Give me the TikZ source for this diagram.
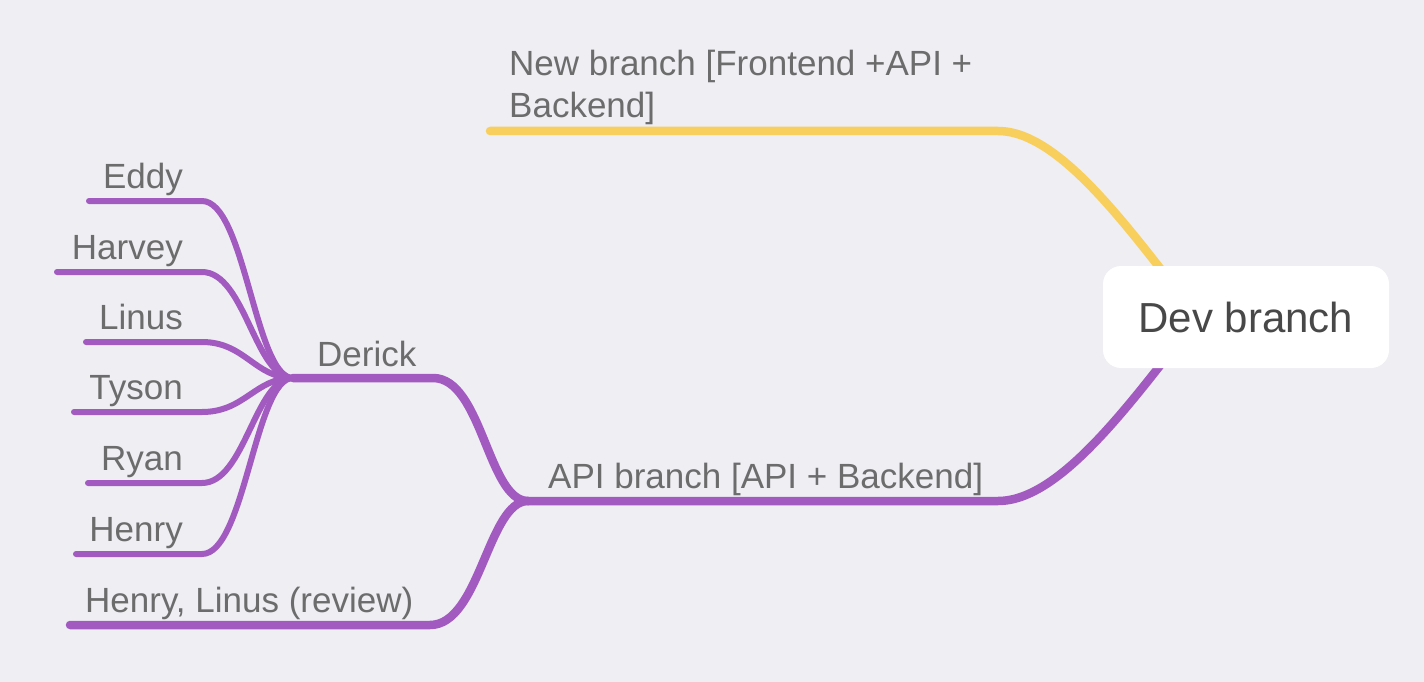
\documentclass[tikz,border=0pt]{standalone}
\usepackage{fontspec}
\setmainfont{Liberation Sans}
\usetikzlibrary{backgrounds}
\definecolor{mmpurple}{RGB}{162,90,193}
\definecolor{mmyellow}{RGB}{248,207,92}
\definecolor{mmbg}{RGB}{238,238,243}
\definecolor{mmtext}{RGB}{108,108,108}
\definecolor{mmdark}{RGB}{72,72,72}

\begin{document}
\begin{tikzpicture}[x=1pt, y=-1pt,
    tag/.style={inner sep=0pt, text=mmtext, font=\fontsize{35}{42}\selectfont},
    trunk/.style={line width=8.5pt, line cap=round},
    twig/.style={mmpurple, line width=6pt, line cap=round}]
            \useasboundingbox (0,0) rectangle (1424,682);
            \node[fill=white, rounded corners=18pt, minimum width=286pt, minimum height=102pt, text=mmdark, font=\fontsize{42}{50}\selectfont] (dev) at (1246,317) {Dev branch};
            % junctions and line ends
            \coordinate (devin) at ([xshift=95pt]dev.west);
            \coordinate (api) at (528,501);
            \coordinate (apiR) at (998,501);
            \coordinate (derick) at (293,378);
            \coordinate (derickR) at (433,378);
            \coordinate (newL) at (490,131);
            \coordinate (newR) at (998,131);
            \coordinate (revL) at (70,625);
            \coordinate (revR) at (430,625);
            \coordinate (eddyL) at (89,201);    \coordinate (eddyR) at (202,201);
            \coordinate (harveyL) at (57,272);  \coordinate (harveyR) at (202,272);
            \coordinate (linusL) at (86,342);   \coordinate (linusR) at (202,342);
            \coordinate (tysonL) at (74,412);   \coordinate (tysonR) at (202,412);
            \coordinate (ryanL) at (88,483);    \coordinate (ryanR) at (202,483);
            \coordinate (henryL) at (76,554);   \coordinate (henryR) at (202,554);
            % labels
            \node[tag, anchor=base west, align=left] (newtag) at (509,118) {New branch [Frontend +API +\\Backend]};
            \node[tag, anchor=base west] (apitag) at (548,488) {API branch [API + Backend]};
            \node[tag, anchor=base west] (dericktag) at (317,366) {Derick};
            \node[tag, anchor=base west] (revtag) at (85,612) {Henry, Linus (review)};
            \node[tag, anchor=base east] (eddytag) at (183,188) {Eddy};
            \node[tag, anchor=base east] (harveytag) at (183,259) {Harvey};
            \node[tag, anchor=base east] (linustag) at (183,329) {Linus};
            \node[tag, anchor=base east] (tysontag) at (183,399) {Tyson};
            \node[tag, anchor=base east] (ryantag) at (183,470) {Ryan};
            \node[tag, anchor=base east] (henrytag) at (183,541) {Henry};
            \begin{scope}[on background layer]
            \fill[mmbg] (0,0) rectangle (1424,682);
            \draw[trunk, mmyellow] (newL) -- (newR) .. controls (1060,131) and (1130,230) .. (devin);
            \draw[trunk, mmpurple] (api) -- (apiR) .. controls (1060,501) and (1130,404) .. (devin);
            \draw[trunk, mmpurple] (derick) -- (derickR) .. controls (482,378) and (488,501) .. (api);
            \draw[trunk, mmpurple] (revL) -- (revR) .. controls (480,625) and (488,501) .. (api);
            \draw[twig] (eddyL) -- (eddyR) .. controls (245,201) and (255,378) .. (derick);
            \draw[twig] (harveyL) -- (harveyR) .. controls (245,272) and (255,378) .. (derick);
            \draw[twig] (linusL) -- (linusR) .. controls (245,342) and (255,378) .. (derick);
            \draw[twig] (tysonL) -- (tysonR) .. controls (245,412) and (255,378) .. (derick);
            \draw[twig] (ryanL) -- (ryanR) .. controls (245,483) and (255,378) .. (derick);
            \draw[twig] (henryL) -- (henryR) .. controls (245,554) and (255,378) .. (derick);
            \end{scope}
        \end{tikzpicture}
\end{document}
